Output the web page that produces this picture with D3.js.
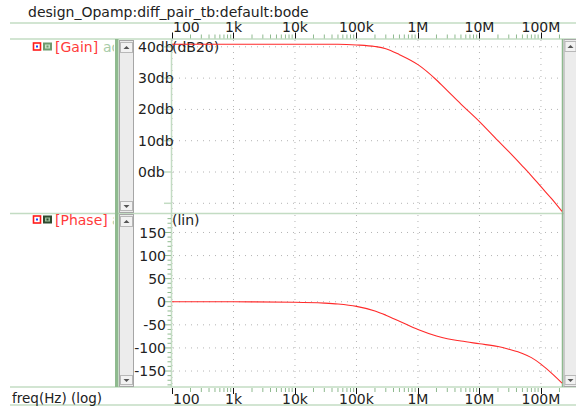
<!DOCTYPE html>
<html>
<head>
<meta charset="utf-8">
<script src="https://cdn.jsdelivr.net/npm/d3@7"></script>
<style>
  body { margin: 0; background: #fff; }
  svg { display: block; font-family: "DejaVu Sans", sans-serif; }
</style>
</head>
<body>
<svg id="chart" width="576" height="413"></svg>
<script>
// values
var freqs = [100, 1e3, 1e4, 3e4, 5e4, 1e5, 2e5, 3e5, 5e5, 1e6, 2e6, 3e6, 5e6, 1e7, 2e7, 3e7, 5e7, 7e7, 1e8, 1.5e8, 2.2e8];
var gainDb = [40.8, 40.8, 40.8, 40.8, 40.8, 40.6, 40.1, 39.4, 37.5, 34.3, 29.4, 26.0, 21.7, 16.1, 10.0, 6.5, 1.9, -1.2, -4.7, -8.6, -12.6];
var phaseDeg = [0, -0.1, -1, -3, -5, -10, -20, -29, -42, -60, -74, -80, -85, -91, -97, -103, -112, -121, -135, -155, -176];

var freqTicks = [100, 1e3, 1e4, 1e5, 1e6, 1e7, 1e8];
var freqLabels = ["100", "1k", "10k", "100k", "1M", "10M", "100M"];
var gainTicks = [-10, 0, 10, 20, 30, 40];
var gainLabels = ["", "0db", "10db", "20db", "30db", "40db"];
var phaseTicks = [-150, -100, -50, 0, 50, 100, 150];

var titleText = "design_Opamp:diff_pair_tb:default:bode";

var svg = d3.select("#chart");
var lightGreen = "#c3dcc3";
var darkGreen = "#8fba8f";
var red = "#ff2a2a";
var fs = "14px";

var x = d3.scaleLog().domain([100, 2.2e8]).range([172, 562]);
var yGain = d3.scaleLinear().domain([-13.1, 42.5]).range([213, 39]);
var yPhase = d3.scaleLinear().domain([-184.6, 190]).range([387, 214]);

// title
svg.append("text")
    .attr("x", 28)
    .attr("y", 17)
    .attr("font-size", "14px")
    .attr("fill", "#222")
    .text(titleText);

// horizontal frame lines
[23, 39, 213.5, 387, 405].forEach(function (yy) {
    svg.append("line")
        .attr("x1", 10).attr("x2", 576)
        .attr("y1", yy).attr("y2", yy)
        .attr("stroke", lightGreen)
        .attr("stroke-width", 1.5);
});

// dotted grid
var grid = svg.append("g").attr("stroke", "#b4b4b4").attr("stroke-dasharray", "1,5");
freqTicks.forEach(function (f) {
    grid.append("line")
        .attr("x1", x(f)).attr("x2", x(f))
        .attr("y1", 40).attr("y2", 213)
        .attr("stroke-width", 1);
    grid.append("line")
        .attr("x1", x(f)).attr("x2", x(f))
        .attr("y1", 215).attr("y2", 386)
        .attr("stroke-width", 1);
});
gainTicks.forEach(function (g) {
    grid.append("line")
        .attr("x1", 173).attr("x2", 562)
        .attr("y1", yGain(g)).attr("y2", yGain(g));
});
phaseTicks.forEach(function (p) {
    grid.append("line")
        .attr("x1", 173).attr("x2", 562)
        .attr("y1", yPhase(p)).attr("y2", yPhase(p));
});

// plot left / right edges
svg.append("line")
    .attr("x1", 171.5).attr("x2", 171.5).attr("y1", 39).attr("y2", 387)
    .attr("stroke", lightGreen).attr("stroke-width", 1.5);
svg.append("line")
    .attr("x1", 562.5).attr("x2", 562.5).attr("y1", 39).attr("y2", 387)
    .attr("stroke", darkGreen).attr("stroke-width", 1.5);

// frequency axes, top and bottom
function freqAxis(yLine, dir, labelY) {
    var minors = [];
    for (var d = 100; d < 2.2e8; d *= 10) {
        for (var m = 2; m <= 9; m++) {
            if (d * m <= 2.2e8) minors.push(d * m);
        }
    }
    minors.forEach(function (f) {
        svg.append("line")
            .attr("x1", x(f)).attr("x2", x(f))
            .attr("y1", yLine).attr("y2", yLine + dir * 4)
            .attr("stroke", darkGreen).attr("stroke-width", 1);
    });
    freqTicks.forEach(function (f, i) {
        svg.append("line")
            .attr("x1", Math.round(x(f)) + 0.5).attr("x2", Math.round(x(f)) + 0.5)
            .attr("y1", yLine).attr("y2", yLine + dir * 6)
            .attr("stroke", "#111").attr("stroke-width", 1);
        svg.append("text")
            .attr("x", i == 0 ? x(f) + 1 : x(f))
            .attr("y", labelY)
            .attr("text-anchor", i == 0 ? "start" : "middle")
            .attr("font-size", fs)
            .attr("fill", "#222")
            .text(freqLabels[i]);
    });
}
freqAxis(38.5, -1, 32);
freqAxis(388, 1, 404);

svg.append("text")
    .attr("x", 12).attr("y", 403)
    .attr("font-size", "13.5px").attr("fill", "#222")
    .text("freq(Hz) (log)");

// gain axis
gainTicks.forEach(function (g, i) {
    svg.append("line")
        .attr("x1", 164).attr("x2", 171)
        .attr("y1", yGain(g)).attr("y2", yGain(g))
        .attr("stroke", lightGreen).attr("stroke-width", 1.5);
    svg.append("text")
        .attr("x", 138)
        .attr("y", yGain(g))
        .attr("dy", "0.36em")
        .attr("font-size", fs)
        .attr("fill", "#222")
        .text(gainLabels[i]);
});
svg.append("text")
    .attr("x", 172).attr("y", 51.5)
    .attr("font-size", fs).attr("fill", "#222")
    .text("(dB20)");

// phase axis
for (var p = -180; p <= 180; p += 10) {
    var major = p % 50 == 0;
    svg.append("line")
        .attr("x1", major ? 165 : 167.5).attr("x2", 171)
        .attr("y1", yPhase(p)).attr("y2", yPhase(p))
        .attr("stroke", darkGreen).attr("stroke-width", 1);
}
phaseTicks.forEach(function (p) {
    svg.append("text")
        .attr("x", 166)
        .attr("y", yPhase(p))
        .attr("dy", "0.36em")
        .attr("text-anchor", "end")
        .attr("font-size", fs)
        .attr("fill", "#222")
        .text(p);
});
svg.append("text")
    .attr("x", 172).attr("y", 225)
    .attr("font-size", fs).attr("fill", "#222")
    .text("(lin)");

// curves
var gainLine = d3.line()
    .x(function (d, i) { return x(freqs[i]); })
    .y(function (d) { return yGain(d); })
    .curve(d3.curveMonotoneX);
var phaseLine = d3.line()
    .x(function (d, i) { return x(freqs[i]); })
    .y(function (d) { return yPhase(d); })
    .curve(d3.curveMonotoneX);

svg.append("path")
    .attr("d", gainLine(gainDb))
    .attr("fill", "none").attr("stroke", red).attr("stroke-width", 1.1);
svg.append("path")
    .attr("d", phaseLine(phaseDeg))
    .attr("fill", "none").attr("stroke", red).attr("stroke-width", 1.1);

// left side: signal names, icons, scroll bars
svg.append("clipPath").attr("id", "nameclip")
    .append("rect").attr("x", 0).attr("y", 0).attr("width", 114).attr("height", 413);

function signalRow(yBase, name, iconDark) {
    svg.append("rect")
        .attr("x", 33.5).attr("y", yBase - 8.5).attr("width", 7).attr("height", 7)
        .attr("fill", "#fff").attr("stroke", "#ff1a1a").attr("stroke-width", 1.6);
    svg.append("rect")
        .attr("x", 36).attr("y", yBase - 6).attr("width", 2).attr("height", 2)
        .attr("fill", "#2040ff");
    svg.append("rect")
        .attr("x", 43).attr("y", yBase - 9).attr("width", 9).attr("height", 8)
        .attr("fill", iconDark ? "#2f4a2f" : "#6f9a6f");
    svg.append("rect")
        .attr("x", 45).attr("y", yBase - 7).attr("width", 5).attr("height", 4)
        .attr("fill", iconDark ? "#9fc09f" : "#c8e0c8");
    svg.append("rect")
        .attr("x", 46.5).attr("y", yBase - 6).attr("width", 2).attr("height", 2)
        .attr("fill", iconDark ? "#2f4a2f" : "#6f9a6f");
    svg.append("text")
        .attr("x", 55).attr("y", yBase)
        .attr("font-size", fs).attr("fill", "#ff3b3b")
        .text(name);
    svg.append("text")
        .attr("x", name == "[Gain]" ? 103 : 112).attr("y", yBase)
        .attr("clip-path", "url(#nameclip)")
        .attr("font-size", fs).attr("fill", "#a8cca8")
        .text("ac");
}
signalRow(51.5, "[Gain]", false);
signalRow(224.5, "[Phase]", true);

svg.append("rect")
    .attr("x", 115).attr("y", 39).attr("width", 3.5).attr("height", 348)
    .attr("fill", darkGreen);

function scrollBar(x0, w, y0, y1, showUp, showDown) {
    svg.append("rect")
        .attr("x", x0).attr("y", y0).attr("width", w).attr("height", y1 - y0)
        .attr("fill", "#ececec").attr("stroke", "#a6a6a6").attr("stroke-width", 1);
    if (showUp) {
        svg.append("rect")
            .attr("x", x0 + 1).attr("y", y0 + 2).attr("width", w - 2).attr("height", 10)
            .attr("fill", "#f2f2f2").attr("stroke", "#b8b8b8");
        svg.append("path")
            .attr("d", "M" + (x0 + w / 2 - 3) + "," + (y0 + 8.5) + "l3,-3l3,3z")
            .attr("fill", "#555");
    }
    if (showDown) {
        svg.append("rect")
            .attr("x", x0 + 1).attr("y", y1 - 11).attr("width", w - 2).attr("height", 9)
            .attr("fill", "#f2f2f2").attr("stroke", "#b8b8b8");
        svg.append("path")
            .attr("d", "M" + (x0 + w / 2 - 3) + "," + (y1 - 7.5) + "l3,3l3,-3z")
            .attr("fill", "#555");
    }
}
scrollBar(119.5, 14, 40.5, 212.5, true, true);
scrollBar(119.5, 14, 214.5, 386.5, true, true);
scrollBar(564, 13, 39.5, 386.5, true, true);
</script>
</body>
</html>
